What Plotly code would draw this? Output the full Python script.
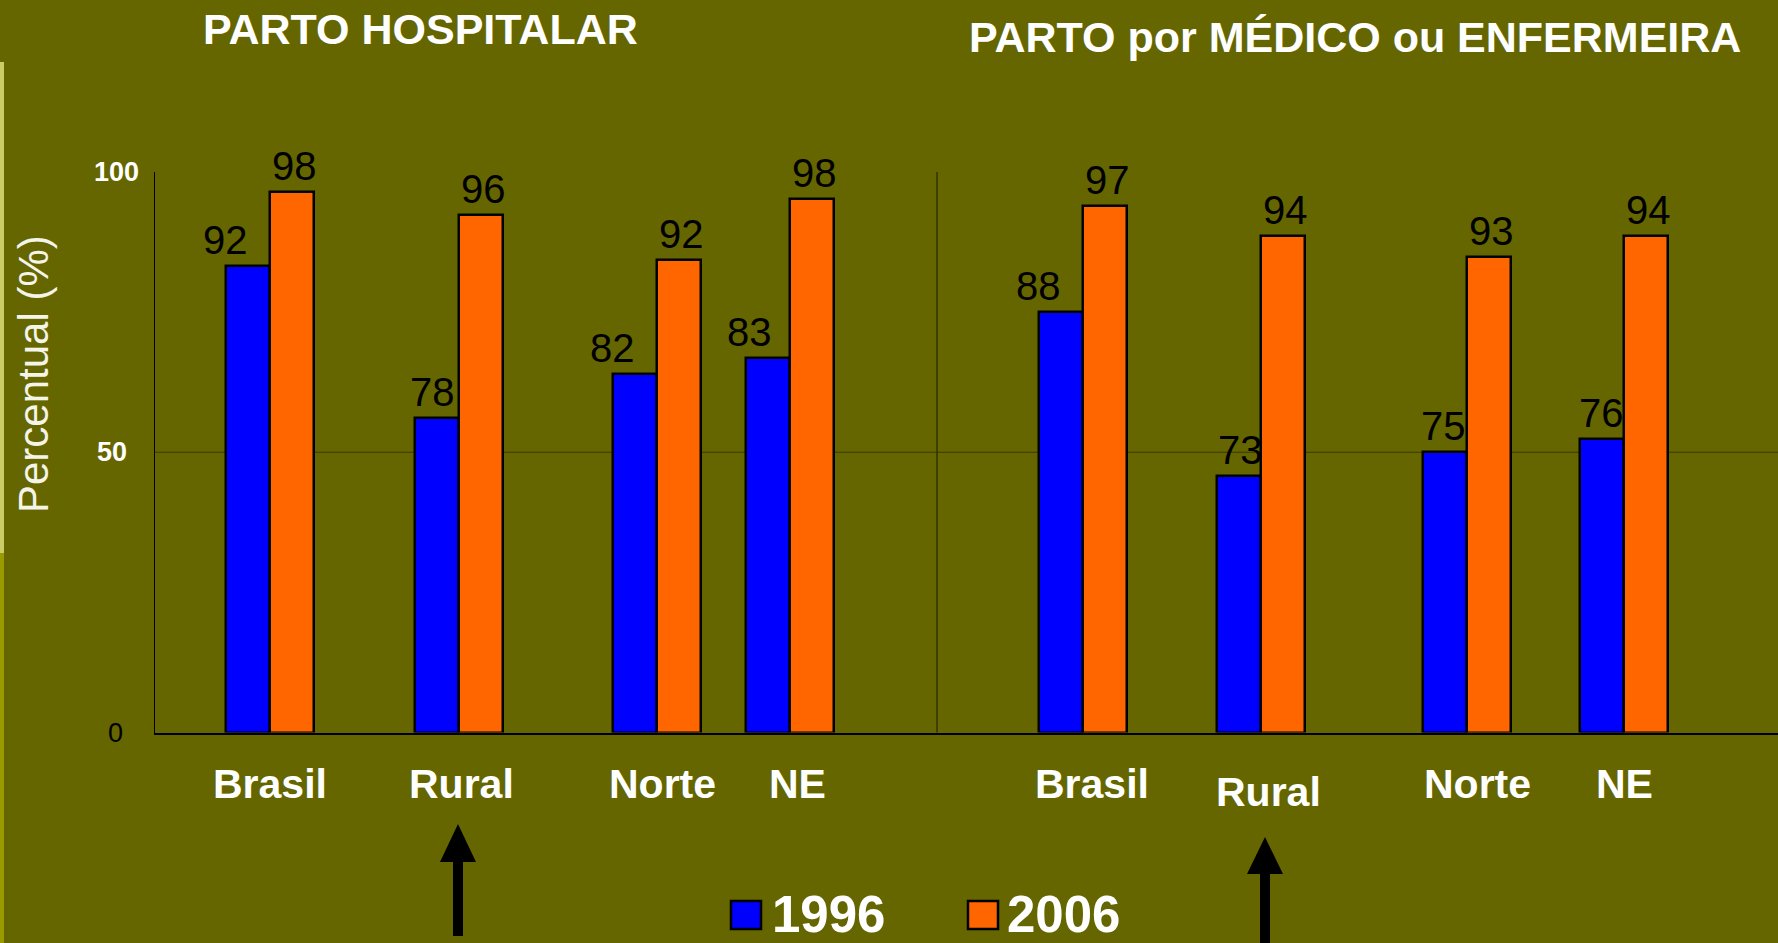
import plotly.graph_objects as go

# ---------------- data ----------------
categories = ["Brasil", "Rural", "Norte", "NE"]
panels = ["PARTO HOSPITALAR", "PARTO por MÉDICO ou ENFERMEIRA"]
years = ["1996", "2006"]

# bar heights as drawn in the picture (percent scale)
hosp_1996 = [83.3, 56.2, 63.9, 66.8]
hosp_2006 = [96.4, 92.4, 84.3, 95.1]
med_1996 = [75.0, 45.7, 50.0, 52.4]
med_2006 = [93.9, 88.6, 84.9, 88.6]

# printed value labels
hosp_1996_lbl = [92, 78, 82, 83]
hosp_2006_lbl = [98, 96, 92, 98]
med_1996_lbl = [88, 73, 75, 76]
med_2006_lbl = [97, 94, 93, 94]

y_ticks = [0, 50, 100]

# ---------------- layout (positions / styles) ----------------
W, H = 1778, 943
BG = "#666600"
BLUE = "#0000ff"
ORANGE = "#ff6600"
FONT = "Liberation Sans, Arial, sans-serif"

X0, X1 = 155, 1778          # plot area in px
Y_TOP, Y_ZERO = 172, 732.5
BAR_W = 44
# group centres (boundary between the two bars), in px units of the x axis
slot_x = [270, 459, 657, 790, 1083, 1261, 1467, 1624]
blue_lbl_dx = [-23, -5, -23, -19, -23, 1, -2, -1]
cat_lbl_x = [270, 461, 662, 797, 1092, 1268, 1477, 1624]
cat_lbl_y = [784, 784, 784, 784, 784, 792, 784, 784]


def px(x):
    return x / W


def py(y):
    return 1 - y / H


v1996 = hosp_1996 + med_1996
v2006 = hosp_2006 + med_2006
l1996 = hosp_1996_lbl + med_1996_lbl
l2006 = hosp_2006_lbl + med_2006_lbl

fig = go.Figure()
fig.add_trace(go.Bar(
    x=slot_x, y=v1996, width=BAR_W, offset=-BAR_W, name=years[0],
    marker=dict(color=BLUE, line=dict(color="black", width=2.5)),
    cliponaxis=False, showlegend=False))
fig.add_trace(go.Bar(
    x=slot_x, y=v2006, width=BAR_W, offset=0, name=years[1],
    marker=dict(color=ORANGE, line=dict(color="black", width=2.5)),
    cliponaxis=False, showlegend=False))

ann = []
# value labels
for i in range(len(slot_x)):
    ann.append(dict(x=slot_x[i] - BAR_W / 2, y=v1996[i], xref="x", yref="y",
                    text=str(l1996[i]), showarrow=False, xanchor="center",
                    yanchor="bottom", xshift=blue_lbl_dx[i], yshift=2,
                    font=dict(family=FONT, size=40, color="black")))
    ann.append(dict(x=slot_x[i] + BAR_W / 2, y=v2006[i], xref="x", yref="y",
                    text=str(l2006[i]), showarrow=False, xanchor="center",
                    yanchor="bottom", xshift=2, yshift=2,
                    font=dict(family=FONT, size=40, color="black")))
# category labels
cats = categories + categories
for i, c in enumerate(cats):
    ann.append(dict(x=cat_lbl_x[i], y=py(cat_lbl_y[i]), xref="x", yref="paper",
                    text=f"<b>{c}</b>", showarrow=False, xanchor="center",
                    yanchor="middle",
                    font=dict(family=FONT, size=41, color="white")))
# panel titles
ann.append(dict(x=px(420), y=py(29), xref="paper", yref="paper",
                text=f"<b>{panels[0]}</b>", showarrow=False, xanchor="center",
                yanchor="middle", font=dict(family=FONT, size=43, color="white")))
ann.append(dict(x=px(1355), y=py(37), xref="paper", yref="paper",
                text=f"<b>{panels[1]}</b>", showarrow=False, xanchor="center",
                yanchor="middle", font=dict(family=FONT, size=43, color="white")))
# y tick labels
tick_x = {0: 115, 50: 112, 100: 116}
for t in y_ticks:
    if t == 0:
        txt, col = "0", "black"
    else:
        txt, col = f"<b>{t}</b>", "white"
    ann.append(dict(x=px(tick_x[t]), y=t, xref="paper", yref="y", text=txt,
                    showarrow=False, xanchor="center", yanchor="middle",
                    font=dict(family=FONT, size=27, color=col)))
# y axis title
ann.append(dict(x=px(33), y=py(374), xref="paper", yref="paper",
                text="Percentual (%)", textangle=-90, showarrow=False,
                xanchor="center", yanchor="middle",
                font=dict(family=FONT, size=42, color="#f4f4e8")))
# legend texts
ann.append(dict(x=px(770), y=py(914), xref="paper", yref="paper",
                text=f"<b>{years[0]}</b>", showarrow=False, xanchor="left",
                yanchor="middle", font=dict(family=FONT, size=51, color="white")))
ann.append(dict(x=px(1005), y=py(914), xref="paper", yref="paper",
                text=f"<b>{years[1]}</b>", showarrow=False, xanchor="left",
                yanchor="middle", font=dict(family=FONT, size=51, color="white")))

shapes = []
# gridline at 50
shapes.append(dict(type="line", xref="paper", yref="y", x0=px(X0), x1=1,
                   y0=50, y1=50, line=dict(color="#3a3a00", width=1),
                   layer="below"))
# panel divider
shapes.append(dict(type="line", xref="paper", yref="y", x0=px(937), x1=px(937),
                   y0=-0.5, y1=100, line=dict(color="#333300", width=1.5)))
# left decorative strips
shapes.append(dict(type="rect", xref="paper", yref="paper", x0=0, x1=px(4),
                   y0=py(553), y1=py(62), fillcolor="#cccc66", line=dict(width=0)))
shapes.append(dict(type="rect", xref="paper", yref="paper", x0=0, x1=px(4),
                   y0=0, y1=py(553), fillcolor="#999900", line=dict(width=0)))
# legend swatches
shapes.append(dict(type="rect", xref="paper", yref="paper", x0=px(731), x1=px(761),
                   y0=py(929), y1=py(901), fillcolor=BLUE,
                   line=dict(color="black", width=2.5)))
shapes.append(dict(type="rect", xref="paper", yref="paper", x0=px(968), x1=px(998),
                   y0=py(929), y1=py(901), fillcolor=ORANGE,
                   line=dict(color="black", width=2.5)))


def arrow_path(cx, tip, base, bottom, head_w=36, shaft_w=10):
    pts = [(cx, tip), (cx + head_w / 2, base), (cx + shaft_w / 2, base),
           (cx + shaft_w / 2, bottom), (cx - shaft_w / 2, bottom),
           (cx - shaft_w / 2, base), (cx - head_w / 2, base)]
    return "M " + " L ".join(f"{px(x):.5f},{py(y):.5f}" for x, y in pts) + " Z"


shapes.append(dict(type="path", xref="paper", yref="paper",
                   path=arrow_path(458, 824, 862, 936),
                   fillcolor="black", line=dict(color="black", width=0)))
shapes.append(dict(type="path", xref="paper", yref="paper",
                   path=arrow_path(1265, 837, 874, 960),
                   fillcolor="black", line=dict(color="black", width=0)))

fig.update_layout(
    width=W, height=H, autosize=False,
    margin=dict(l=0, r=0, t=0, b=0),
    paper_bgcolor=BG, plot_bgcolor=BG,
    barmode="overlay", bargap=0,
    showlegend=False,
    annotations=ann, shapes=shapes,
    xaxis=dict(domain=[px(X0), 1], range=[X0, X1], showgrid=False,
               zeroline=False, showticklabels=False, ticks="",
               showline=True, linecolor="black", linewidth=1.5),
    yaxis=dict(domain=[py(Y_ZERO), py(Y_TOP)], range=[0, 100], showgrid=False,
               zeroline=False, showticklabels=False, ticks="",
               showline=True, linecolor="black", linewidth=1),
)

fig.write_html(
    "out.html",
    config={"displayModeBar": False},
    post_script="document.body.style.margin='0';document.body.style.overflow='hidden';"
                "document.body.style.background='" + BG + "';",
)
